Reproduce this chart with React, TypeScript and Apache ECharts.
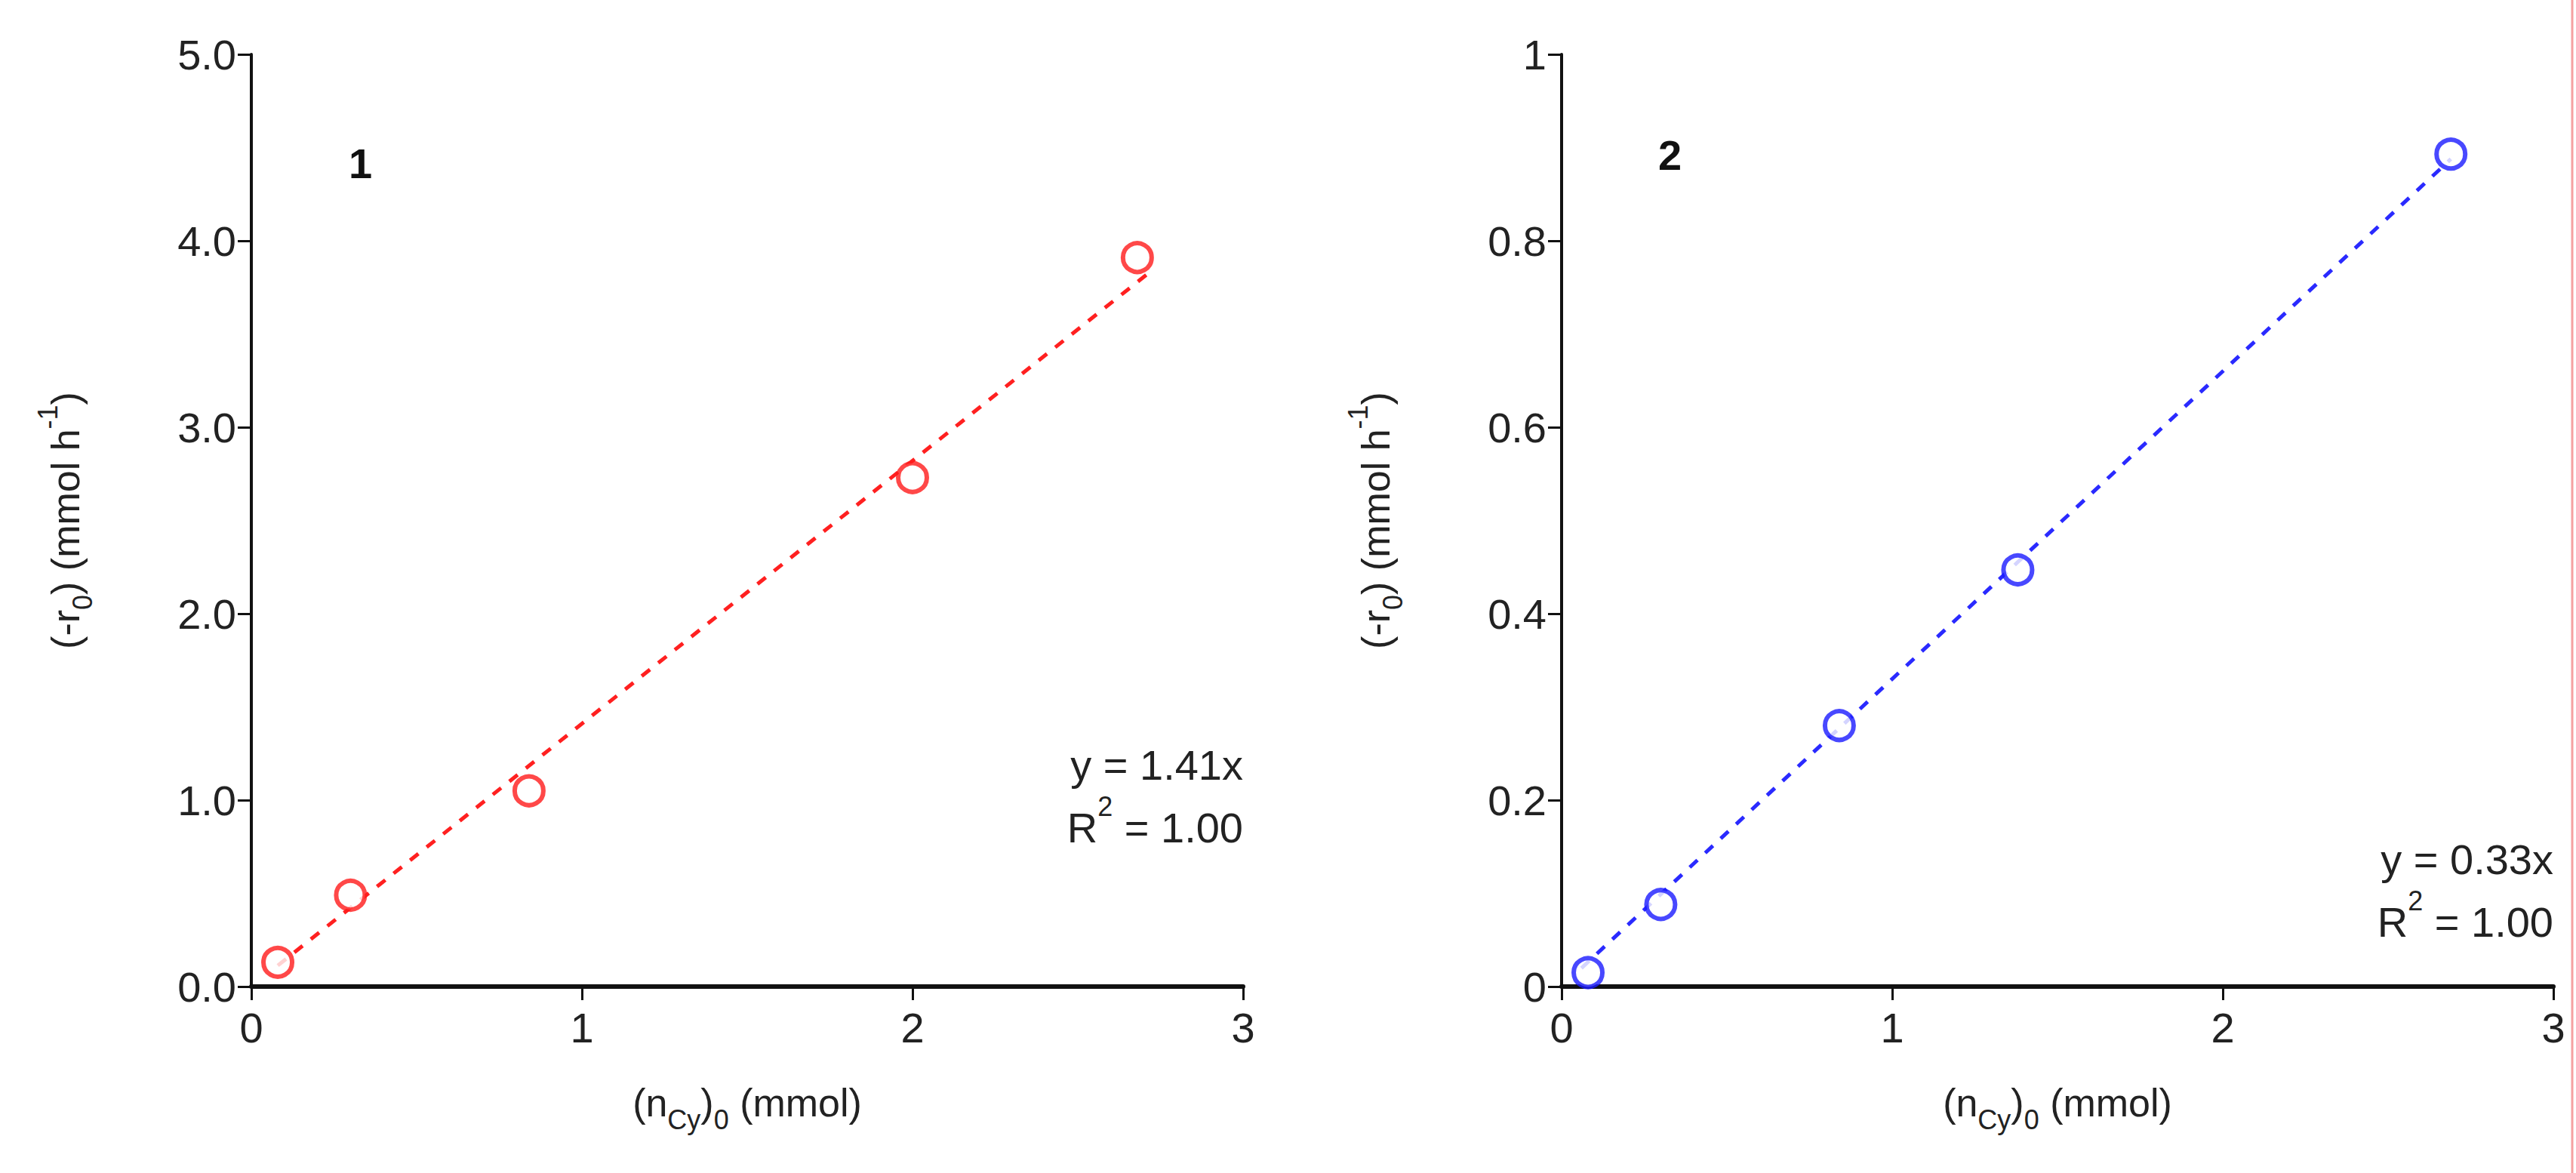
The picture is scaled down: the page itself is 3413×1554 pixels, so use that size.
import React, { useEffect, useRef } from 'react';
import * as echarts from 'echarts';

const xLeft = [0.08, 0.3, 0.84, 2.0, 2.68];
const yLeft = [0.13, 0.49, 1.05, 2.73, 3.91];
const xRight = [0.08, 0.3, 0.84, 1.38, 2.69];
const yRight = [0.015, 0.088, 0.28, 0.447, 0.893];
const slopeLeft = 1.41;
const slopeRight = 0.33;
const fitRangeLeft = [0.08, 2.72];
const fitRangeRight = [0.06, 2.69];

const font = 'Liberation Sans, Arial, sans-serif';

const yName = '{n|(-r}{s|0}{n|) (mmol h}{p|-1}{n|)}';
const xName = '{n|(n}{s|Cy}{n|)}{s|0}{n| (mmol)}';
const nameRich = {
  n: { fontSize: 52, fontFamily: font, color: '#222' },
  s: { fontSize: 36, fontFamily: font, color: '#222', verticalAlign: 'bottom', padding: [0, 0, -14, 0] },
  p: { fontSize: 36, fontFamily: font, color: '#222', verticalAlign: 'top', padding: [-16, 0, 0, 0] },
};
const noteRich = {
  n: { fontSize: 56, fontFamily: font },
  p: { fontSize: 36, fontFamily: font, verticalAlign: 'top', padding: [-18, 0, 0, 0] },
};

const App = () => {
  const ref = useRef<HTMLDivElement>(null);

  useEffect(() => {
    if (!ref.current) return;
    const chart = echarts.init(ref.current, null, { renderer: 'svg' });

    const xAxisBase = (idx: number) => ({
      type: 'value',
      gridIndex: idx,
      min: 0,
      max: 3,
      interval: 1,
      name: xName,
      nameLocation: 'middle',
      nameGap: 128,
      nameTextStyle: { rich: nameRich },
      axisLine: { onZero: false, lineStyle: { color: '#111', width: 6 } },
      axisTick: { inside: false, length: 18, lineStyle: { color: '#111', width: 3 } },
      axisLabel: { fontSize: 56, fontFamily: font, color: '#222', margin: 26 },
      splitLine: { show: false },
    });

    const yAxisBase = (idx: number, max: number, interval: number, fmt: (v: number) => string) => ({
      type: 'value',
      gridIndex: idx,
      min: 0,
      max,
      interval,
      name: yName,
      nameLocation: 'middle',
      nameRotate: 90,
      nameGap: 220,
      nameTextStyle: { rich: nameRich },
      axisLine: { show: true, lineStyle: { color: '#111', width: 4 } },
      axisTick: { show: true, length: 18, lineStyle: { color: '#111', width: 3 } },
      axisLabel: { fontSize: 56, fontFamily: font, color: '#222', margin: 20, formatter: fmt },
      splitLine: { show: false },
    });

    const scatter = (idx: number, xs: number[], ys: number[], color: string) => ({
      type: 'scatter',
      xAxisIndex: idx,
      yAxisIndex: idx,
      symbol: 'circle',
      symbolSize: 38,
      itemStyle: { color: '#fff', borderColor: color, borderWidth: 6 },
      data: xs.map((x, i) => [x, ys[i]]),
      z: 3,
    });

    const fit = (idx: number, range: number[], slope: number, color: string) => ({
      type: 'line',
      xAxisIndex: idx,
      yAxisIndex: idx,
      symbol: 'none',
      lineStyle: { color, width: 5, type: [14, 14] },
      data: range.map((x) => [x, slope * x]),
      z: 2,
    });

    chart.setOption({
      animation: false,
      backgroundColor: '#fff',
      grid: [
        { left: 333, top: 72, width: 1314, height: 1235 },
        { left: 2069, top: 72, width: 1314, height: 1235 },
      ],
      xAxis: [xAxisBase(0), xAxisBase(1)],
      yAxis: [
        yAxisBase(0, 5, 1, (v: number) => v.toFixed(1)),
        yAxisBase(1, 1, 0.2, (v: number) => String(Math.round(v * 10) / 10)),
      ],
      series: [
        fit(0, fitRangeLeft, slopeLeft, '#ff2020'),
        scatter(0, xLeft, yLeft, '#ff1a1a'),
        fit(1, fitRangeRight, slopeRight, '#2a2aff'),
        scatter(1, xRight, yRight, '#1a1aff'),
      ],
      graphic: [
        { type: 'text', x: 462, y: 188, style: { text: '1', fontSize: 56, fontWeight: 'bold', fontFamily: font, fill: '#111' } },
        { type: 'text', x: 2197, y: 177, style: { text: '2', fontSize: 56, fontWeight: 'bold', fontFamily: font, fill: '#111' } },
        { type: 'text', x: 1647, y: 985, style: { text: 'y = 1.41x', align: 'right', fontSize: 56, fontFamily: font, fill: '#222' } },
        { type: 'text', x: 1647, y: 1068, style: { text: '{n|R}{p|2}{n| = 1.00}', align: 'right', fontFamily: font, fill: '#222', rich: noteRich } },
        { type: 'text', x: 3383, y: 1110, style: { text: 'y = 0.33x', align: 'right', fontSize: 56, fontFamily: font, fill: '#222' } },
        { type: 'text', x: 3383, y: 1193, style: { text: '{n|R}{p|2}{n| = 1.00}', align: 'right', fontFamily: font, fill: '#222', rich: noteRich } },
        { type: 'line', shape: { x1: 3408, y1: 0, x2: 3408, y2: 1554 }, style: { stroke: '#f5a0a0', lineWidth: 3 } },
      ],
    });

    return () => chart.dispose();
  }, []);

  return <div ref={ref} style={{ position: 'absolute', left: 0, top: 0, width: 3413, height: 1554 }} />;
};

export default App;
